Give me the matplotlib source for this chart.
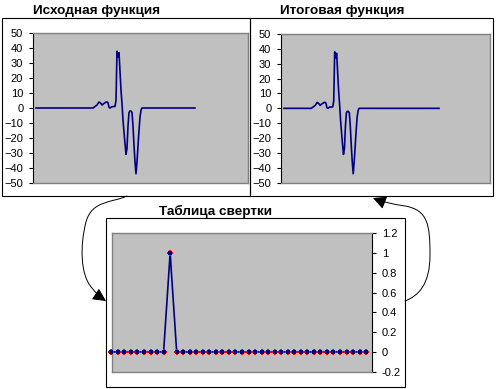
import matplotlib
matplotlib.use("Agg")
import matplotlib.pyplot as plt
from matplotlib.path import Path
from matplotlib.patches import Rectangle, FancyArrowPatch

W, H = 497, 389

# ---------------- data ----------------
source_values = [
    0, 0, 0, 0, 0, 0, 0, 0, 0, 0, 0, 0, 0, 0, 0, 0, 0, 0, 0, 0,
    0, 0, 0, 0, 0, 0, 0, 0, 0, 0, 0, 0, 0, 0, 0, 0, 0, 0, 0, 0,
    0, 0, 0, 0, 0, 0, 0, 0, 0, 0, 0, 0, 0, 0, 0, 0, 0, 0,
    0.5, 1, 1.5, 2, 3, 4, 3.6, 3, 2, 2.5, 3.1, 3.5, 4, 4, 3.5, 0.5, 0, 0.5, 0.9, 0.9,
    1, 1, 5, 38, 34, 37, 25, 12, 3, -8, -16, -24, -31, -27, -12, -3, -2, -2, -3, -12,
    -25, -36, -44, -36, -25, -15, -6, -1.5, 0, 0,
    0, 0, 0, 0, 0, 0, 0, 0, 0, 0, 0, 0, 0, 0, 0, 0, 0, 0, 0, 0,
    0, 0, 0, 0, 0, 0, 0, 0, 0, 0, 0, 0, 0, 0, 0, 0, 0, 0, 0, 0,
    0, 0, 0, 0, 0, 0, 0, 0, 0, 0, 0, 0,
]

result_values = [
    0, 0, 0, 0, 0, 0, 0, 0, 0, 0, 0, 0, 0, 0, 0, 0, 0, 0, 0, 0,
    0, 0, 0, 0, 0, 0, 0, 0, 0,
    0.5, 1, 1.5, 2, 3, 4, 3.6, 3, 2, 2.5, 3.1, 3.5, 4, 4, 3.5, 0.5, 0, 0.5, 0.9, 0.9,
    1, 1, 5, 38, 34, 37, 25, 12, 3, -8, -16, -24, -31, -27, -12, -3, -2, -2, -3, -12,
    -25, -36, -44, -36, -25, -15, -6, -1.5, 0, 0,
    0, 0, 0, 0, 0, 0, 0, 0, 0, 0, 0, 0, 0, 0, 0, 0, 0, 0, 0, 0,
    0, 0, 0, 0, 0, 0, 0, 0, 0, 0, 0, 0, 0, 0, 0, 0, 0, 0, 0, 0,
    0, 0, 0, 0, 0, 0, 0, 0, 0, 0, 0, 0, 0, 0, 0, 0, 0, 0, 0, 0,
    0, 0, 0, 0, 0, 0, 0, 0, 0, 0, 0, 0, 0, 0, 0, 0, 0, 0, 0, 0,
    0,
]

kernel_values = [
    0, 0, 0, 0, 0, 0, 0, 0, 0, 1,
    0, 0, 0, 0, 0, 0, 0, 0, 0, 0,
    0, 0, 0, 0, 0, 0, 0, 0, 0, 0,
    0, 0, 0, 0, 0, 0, 0, 0, 0, 0,
]

top_ticks = [50, 40, 30, 20, 10, 0, -10, -20, -30, -40, -50]
kernel_ticks = [1.2, 1.0, 0.8, 0.6, 0.4, 0.2, 0.0, -0.2]
kernel_tick_labels = ["1.2", "1", "0.8", "0.6", "0.4", "0.2", "0", "-0.2"]

title_source = "Исходная функция"
title_result = "Итоговая функция"
title_kernel = "Таблица свертки"

# ---------------- styling ----------------
NAVY = "#000080"
PLOT_BG = "#C0C0C0"
PLOT_EDGE = "#808080"
FONT = "Liberation Sans"
plt.rcParams["font.family"] = [FONT, "DejaVu Sans"]


def rect(l, r, t, b):
    return [l / W, 1 - b / H, (r - l) / W, (b - t) / H]


fig = plt.figure(figsize=(W / 100, H / 100), dpi=100)
fig.patch.set_facecolor("white")

# overlay in pixel coordinates
ov = fig.add_axes([0, 0, 1, 1])
ov.set_xlim(0, W)
ov.set_ylim(H, 0)
ov.axis("off")
ov.patch.set_alpha(0)

for (l, r, t, b) in [(2, 250, 18, 196), (250, 493, 18, 196), (106, 405, 218, 387)]:
    ov.add_patch(Rectangle((l, t), r - l, b - t, fill=False, ec="black", lw=0.8))

ov.text(33, 11, title_source, fontsize=9.7, fontweight="bold", ha="left", va="center")
ov.text(280, 11, title_result, fontsize=9.7, fontweight="bold", ha="left", va="center")
ov.text(159, 211, title_kernel, fontsize=9.7, fontweight="bold", ha="left", va="center")

# curved arrows
left_path = Path(
    [(127, 196), (112, 203), (92, 200), (86, 222),
     (80, 245), (80, 275), (92, 288),
     (96, 293), (100, 297), (106, 301)],
    [Path.MOVETO, Path.CURVE4, Path.CURVE4, Path.CURVE4,
     Path.CURVE4, Path.CURVE4, Path.CURVE4,
     Path.CURVE4, Path.CURVE4, Path.CURVE4],
)
right_path = Path(
    [(405, 301), (418, 296), (430, 285), (430, 255),
     (430, 225), (428, 210), (405, 206),
     (392, 204), (383, 202), (373, 198)],
    [Path.MOVETO, Path.CURVE4, Path.CURVE4, Path.CURVE4,
     Path.CURVE4, Path.CURVE4, Path.CURVE4,
     Path.CURVE4, Path.CURVE4, Path.CURVE4],
)
for p in (left_path, right_path):
    ov.add_patch(FancyArrowPatch(path=p, arrowstyle="-|>,head_length=0.8,head_width=0.4",
                                 mutation_scale=10, lw=0.7, color="black"))


def style_axes(ax, axis_side):
    ax.set_facecolor(PLOT_BG)
    for s in ax.spines.values():
        s.set_color(PLOT_EDGE)
        s.set_linewidth(1.0)
    ax.spines[axis_side].set_color("black")
    ax.spines[axis_side].set_linewidth(0.8)
    ax.tick_params(axis="x", bottom=False, labelbottom=False)
    ax.tick_params(axis="y", direction="out", length=3, width=0.8, labelsize=8, pad=4,
                   colors="black")


# top-left: source function
ax1 = fig.add_axes(rect(33, 248, 33.3, 182.7))
ax1.plot(range(len(source_values)), source_values, color=NAVY, lw=1.2)
ax1.set_xlim(-3, 212)
ax1.set_ylim(-50, 50)
ax1.set_yticks(top_ticks)
style_axes(ax1, "left")

# top-right: result function
ax2 = fig.add_axes(rect(281, 490, 34, 182.7))
ax2.plot([i * 0.975 for i in range(len(result_values))], result_values, color=NAVY, lw=1.2)
ax2.set_xlim(-3, 206)
ax2.set_ylim(-50, 50)
ax2.set_yticks(top_ticks)
style_axes(ax2, "left")

# bottom: kernel table
ax3 = fig.add_axes(rect(112, 372, 233.3, 371.7))
xk = list(range(len(kernel_values)))
ax3.plot(xk, kernel_values, color=NAVY, lw=1.2, zorder=2)
ax3.plot(xk, kernel_values, ls="none", marker="+", ms=5, mew=1.4, color="red",
         clip_on=False, zorder=3)
ax3.plot(xk, kernel_values, ls="none", marker="s", ms=2.6, mew=0, color=NAVY,
         clip_on=False, zorder=4)
ax3.set_xlim(0.1, 39.9)
ax3.set_ylim(-0.2, 1.2)
ax3.yaxis.tick_right()
ax3.set_yticks(kernel_ticks)
ax3.set_yticklabels(kernel_tick_labels)
style_axes(ax3, "right")
ax3.tick_params(axis="y", left=False, right=True, labelleft=False, labelright=True, pad=4)
for lbl in ax3.get_yticklabels():
    lbl.set_horizontalalignment("left")

fig.savefig("out.png", dpi=100)
